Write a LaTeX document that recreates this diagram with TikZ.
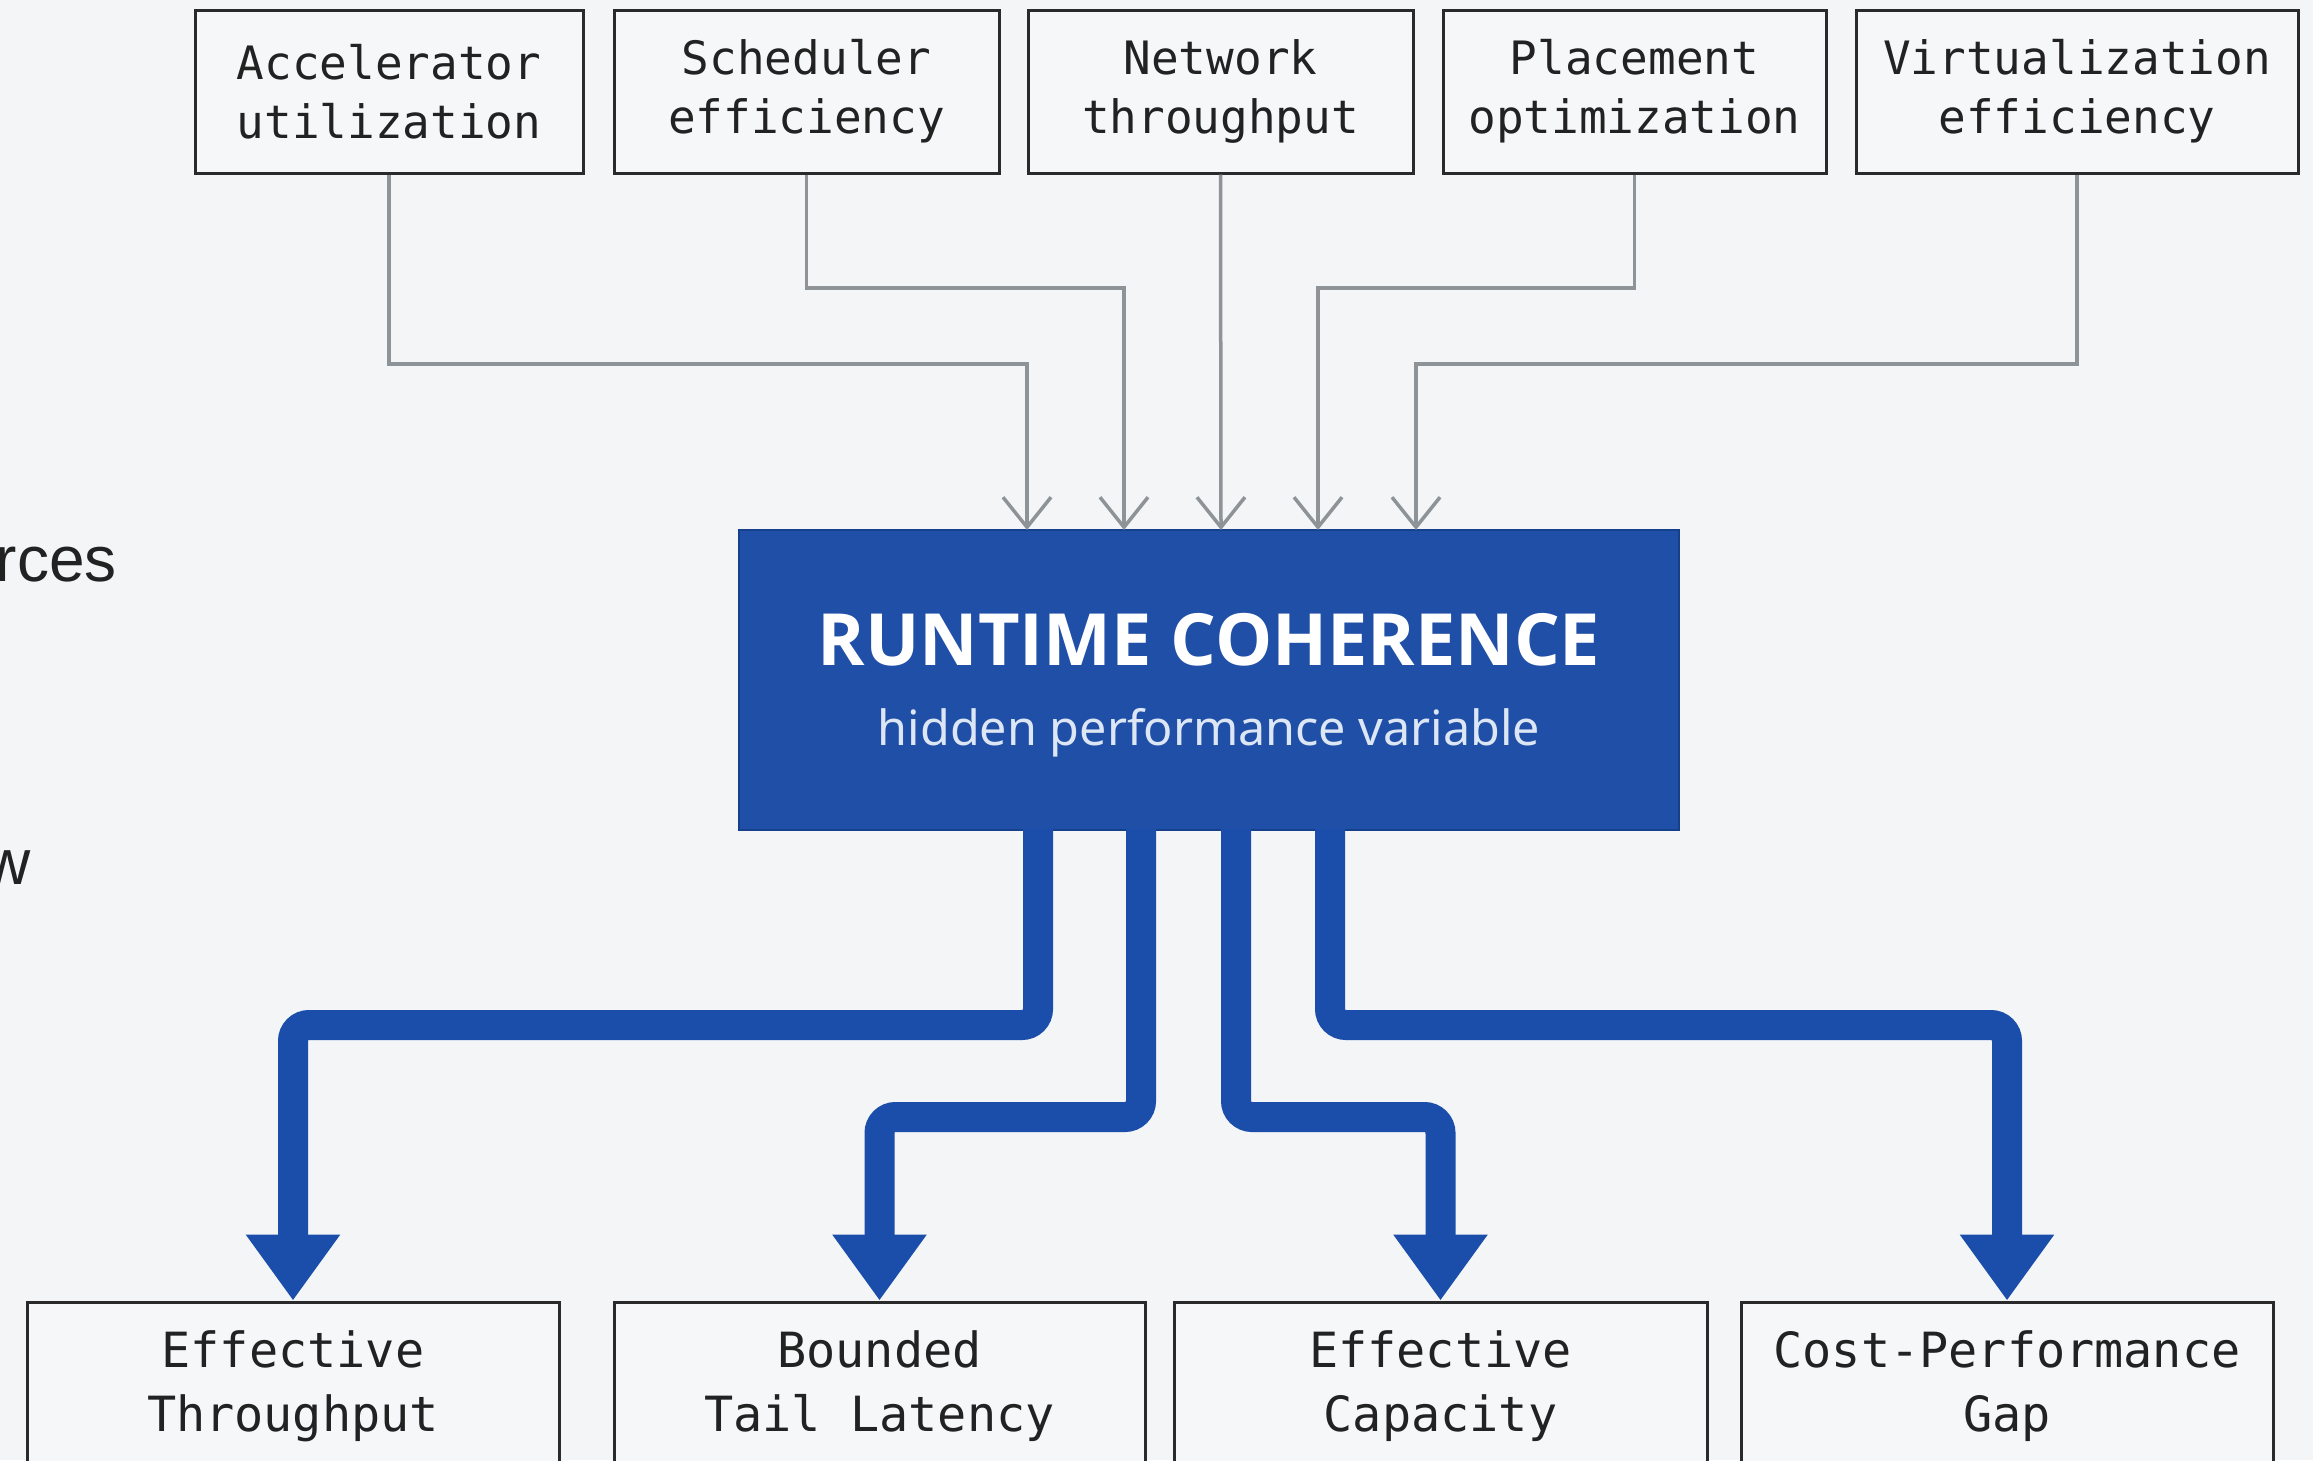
\documentclass[tikz,border=0pt]{standalone}
\usepackage{fontspec}
\setmonofont{DejaVu Sans Mono}
\newfontfamily\headfont{Open Sans}
\newfontfamily\subfont{Noto Sans}
\newfontfamily\sidefont{Liberation Sans}
\usetikzlibrary{arrows.meta}
\definecolor{bg}{HTML}{F3F5F6}
\definecolor{boxfill}{HTML}{F5F7F8}
\definecolor{boxline}{HTML}{2A2A2A}
\definecolor{coreblue}{HTML}{1F4FA6}
\definecolor{coreline}{HTML}{17408C}
\definecolor{arrowblue}{HTML}{1B4EAA}
\definecolor{wire}{HTML}{8E9397}
\definecolor{subtxt}{HTML}{DCE6F5}
\definecolor{txt}{HTML}{222222}
\begin{document}
\begin{tikzpicture}[x=1pt,y=-1pt,
 topbox/.style={draw=boxline, line width=3pt, fill=boxfill, minimum height=163pt, inner sep=0pt, align=center, text=txt, font=\ttfamily\fontsize{46}{59}\selectfont},
 botbox/.style={draw=boxline, line width=3pt, fill=boxfill, minimum height=168pt, inner sep=0pt, align=center, text=txt, font=\ttfamily\fontsize{48.5}{64}\selectfont},
 inwire/.style={draw=wire, line width=3.5pt, -{Straight Barb[length=30pt,width=48pt]}},
 outwire/.style={draw=arrowblue, line width=30pt, rounded corners=16pt, -{Triangle[length=66pt,width=90pt]}},
 sidetext/.style={inner sep=0pt, text=txt, font=\sidefont\fontsize{64}{70}\selectfont},
]
\path[use as bounding box] (0,0) rectangle (2313,1460);
\fill[bg] (0,0) rectangle (2313,1460);

% left cut-off text
\node[sidetext, anchor=east] (s1) at (117,565) {rces};
\node[sidetext, anchor=east] (s2) at (31,868) {w};

% top boxes
\node[topbox, minimum width=388pt] (t1) at (389,91.5) {Accelerator\\utilization};
\node[topbox, minimum width=385pt] (t2) at (806.5,91.5) {Scheduler\\efficiency};
\node[topbox, minimum width=385pt] (t3) at (1220.5,91.5) {Network\\throughput};
\node[topbox, minimum width=383pt] (t4) at (1634.5,91.5) {Placement\\optimization};
\node[topbox, minimum width=442pt] (t5) at (2077,91.5) {Virtualization\\efficiency};

% central box
\node[draw=coreline, line width=2.5pt, fill=coreblue, minimum width=940pt, minimum height=300pt, inner sep=0pt] (rc) at (1209,680) {};
\node[inner sep=0pt, text=white, font=\headfont\bfseries\fontsize{72}{80}\selectfont] (rct) at (1209,640) {RUNTIME COHERENCE};
\node[inner sep=0pt, text=subtxt, font=\subfont\fontsize{48.5}{54}\selectfont] (rcs) at (1209,733) {hidden performance variable};

% bottom boxes
\node[botbox, minimum width=532pt] (b1) at (293,1386) {Effective\\Throughput};
\node[botbox, minimum width=531pt] (b2) at (879.5,1386) {Bounded\\Tail Latency};
\node[botbox, minimum width=533pt] (b3) at (1440.5,1386) {Effective\\Capacity};
\node[botbox, minimum width=532pt] (b4) at (2007,1386) {Cost-Performance\\Gap};

% input wires
\coordinate (i1) at (1027,530);
\coordinate (i2) at (1124,530);
\coordinate (i3) at (1221,530);
\coordinate (i4) at (1318,530);
\coordinate (i5) at (1416,530);
\draw[inwire] (t1.south) |- (1027,364) -- (i1);
\draw[inwire] (t2.south) |- (1124,288) -- (i2);
\draw[inwire] (t3.south) -- (i3);
\draw[inwire] (t4.south) |- (1318,288) -- (i4);
\draw[inwire] (t5.south) |- (1416,364) -- (i5);

% output arrows
\coordinate (o1) at (1038,829);
\coordinate (o2) at (1141,829);
\coordinate (o3) at (1236,829);
\coordinate (o4) at (1330,829);
\draw[outwire] (o1) |- (293,1025) -- (b1.north);
\draw[outwire] (o2) |- (879.5,1117) -- (b2.north);
\draw[outwire] (o3) |- (1440.5,1117) -- (b3.north);
\draw[outwire] (o4) |- (2007,1025) -- (b4.north);
\end{tikzpicture}
\end{document}
